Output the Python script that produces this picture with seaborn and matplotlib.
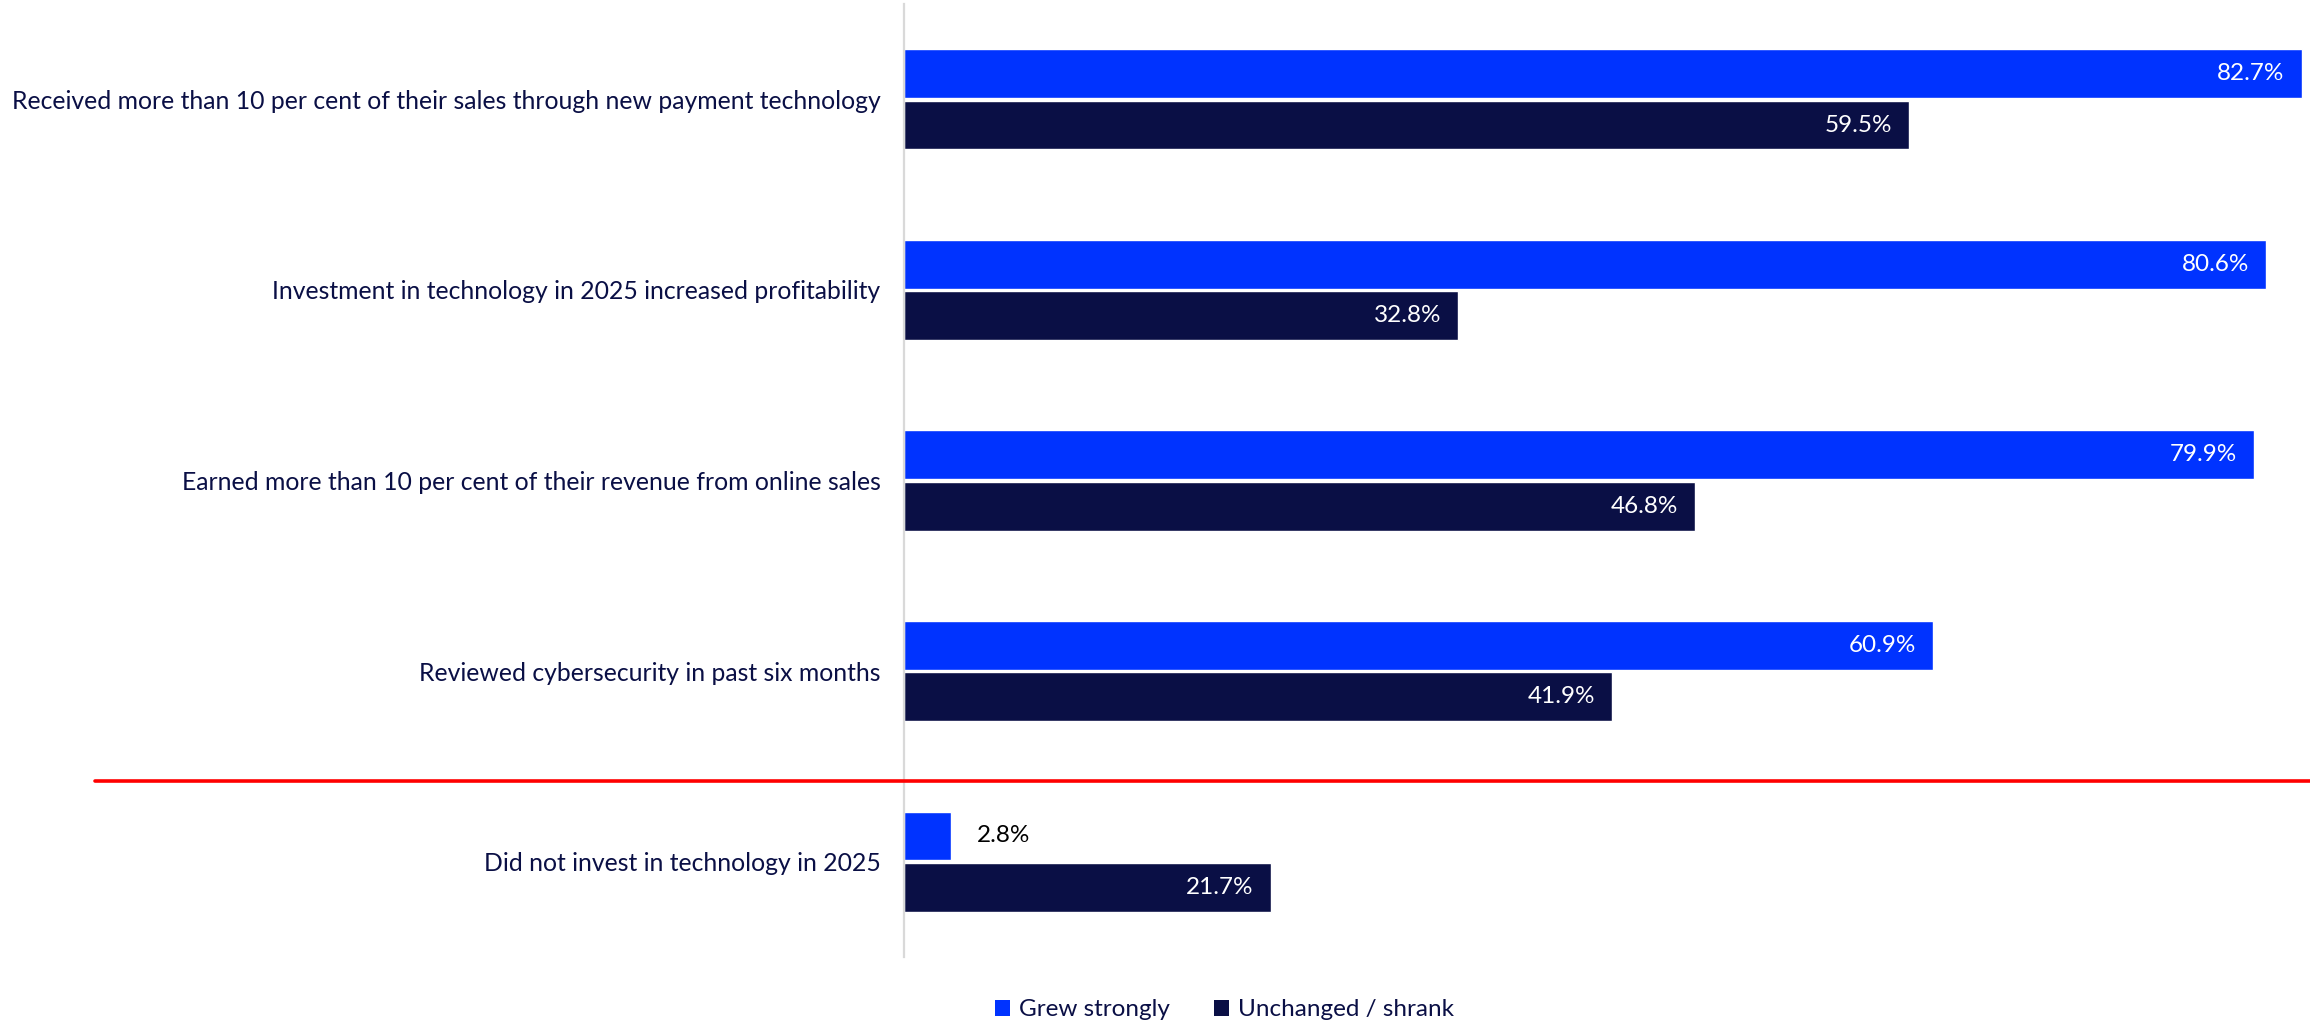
import numpy as np
import pandas as pd
import seaborn as sns
import matplotlib.pyplot as plt
from matplotlib.transforms import blended_transform_factory
from matplotlib.lines import Line2D
from matplotlib.patches import Patch

# Survey results: share of businesses by growth outcome
categories = [
    "Received more than 10 per cent of their sales through new payment technology",
    "Investment in technology in 2025 increased profitability",
    "Earned more than 10 per cent of their revenue from online sales",
    "Reviewed cybersecurity in past six months",
    "Did not invest in technology in 2025",
]
series_names = ["Grew strongly", "Unchanged / shrank"]
grew_strongly = [82.7, 80.6, 79.9, 60.9, 2.8]
unchanged_shrank = [59.5, 32.8, 46.8, 41.9, 21.7]

BLUE = "#0033FF"
NAVY = "#0A0F45"
TEXT = "#0A0F45"

df = pd.DataFrame({
    "category": categories * 2,
    "group": [series_names[0]] * len(categories) + [series_names[1]] * len(categories),
    "value": grew_strongly + unchanged_shrank,
})

sns.set_theme(style="white")
plt.rcParams["font.family"] = ["Lato", "DejaVu Sans"]

W, H = 2310, 1024
fig = plt.figure(figsize=(W / 100, H / 100), dpi=100)
ax = fig.add_axes([904 / W, (H - 957) / H, (W - 904) / W, 953 / H])

sns.barplot(
    data=df, y="category", x="value", hue="group",
    order=categories, hue_order=series_names,
    palette=[BLUE, NAVY], saturation=1, orient="h",
    width=0.54, gap=0.05, errorbar=None, legend=False, ax=ax,
)

ax.set_xlim(0, 83.2)
ax.set_ylim(4.5, -0.5)
ax.set_xlabel("")
ax.set_ylabel("")
ax.set_xticks([])
for side in ["top", "right", "bottom"]:
    ax.spines[side].set_visible(False)
ax.spines["left"].set_color("#D9D9D9")
ax.spines["left"].set_linewidth(1.6)
ax.tick_params(axis="y", length=0, pad=17, labelsize=17.8, labelcolor=TEXT)

# Value labels at the end of each bar
for container in ax.containers:
    for patch in container:
        w = patch.get_width()
        yc = patch.get_y() + patch.get_height() / 2
        label = f"{w:.1f}%"
        if w < 10:
            ax.text(w + 1.5, yc, label, ha="left", va="center",
                    color="black", fontsize=17.5)
        else:
            ax.text(w - 1.0, yc, label, ha="right", va="center",
                    color="white", fontsize=17.5)

# Red separator between the groups
trans = blended_transform_factory(fig.transFigure, ax.transData)
fig.add_artist(Line2D([95 / W, 1.0], [3.577, 3.577], transform=trans,
                      color="#FF0000", lw=2.6))

handles = [Patch(facecolor=BLUE, edgecolor="none"),
           Patch(facecolor=NAVY, edgecolor="none")]
fig.legend(handles, series_names, loc="center", ncol=2,
           bbox_to_anchor=(0.530, 0.0137), frameon=False, fontsize=17.5,
           handlelength=0.65, handleheight=0.65, handletextpad=0.35,
           columnspacing=1.8, labelcolor=TEXT)

fig.savefig("out.png", dpi=100)
